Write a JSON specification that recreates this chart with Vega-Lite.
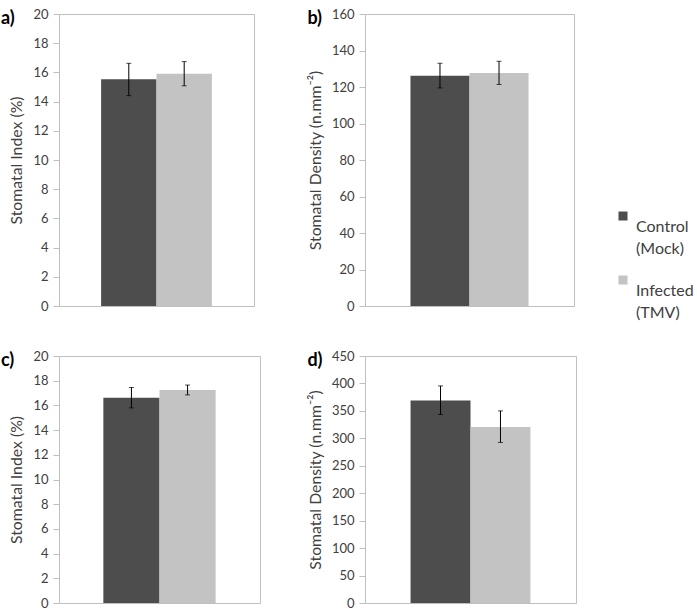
{
  "$schema": "https://vega.github.io/schema/vega-lite/v6.json",
  "padding": {"left": 0, "top": 7, "right": 0, "bottom": 0},
  "config": {
    "font": "Lato",
    "view": {"stroke": "#bfbfbf", "strokeWidth": 1},
    "axisY": {"domain": false, "grid": false, "ticks": true, "tickColor": "#bfbfbf", "tickSize": 6, "labelFontSize": 13, "labelColor": "#404040", "labelPadding": 5, "labelOverlap": false, "titleFontSize": 15.8, "titleFontWeight": "normal", "titleColor": "#404040", "titlePadding": 8},
    "title": {"fontSize": 18, "fontWeight": "bold", "anchor": "start", "frame": "bounds", "color": "#000000", "baseline": "middle", "offset": -13},
    "legend": {"orient": "none", "legendX": 556, "legendY": 205}
  },
  "data": {"values": [
    {"panel": "a", "group": "Control (Mock)", "mean": 15.53, "lo": 14.41, "hi": 16.62},
    {"panel": "a", "group": "Infected (TMV)", "mean": 15.9, "lo": 15.08, "hi": 16.74},
    {"panel": "b", "group": "Control (Mock)", "mean": 126.2, "lo": 119.5, "hi": 133.0},
    {"panel": "b", "group": "Infected (TMV)", "mean": 127.7, "lo": 121.4, "hi": 134.1},
    {"panel": "c", "group": "Control (Mock)", "mean": 16.62, "lo": 15.8, "hi": 17.45},
    {"panel": "c", "group": "Infected (TMV)", "mean": 17.24, "lo": 16.85, "hi": 17.65},
    {"panel": "d", "group": "Control (Mock)", "mean": 369.0, "lo": 343.5, "hi": 395.5},
    {"panel": "d", "group": "Infected (TMV)", "mean": 320.5, "lo": 292.5, "hi": 350.0}
  ]},
  "columns": 2,
  "spacing": {"row": 35, "column": 45},
  "concat": [
    {
      "title": {"text": "a)", "dy": 7, "dx": -8},
      "width": 195, "height": 292,
      "transform": [{"filter": "datum.panel == 'a'"}],
      "encoding": {"x": {"field": "group", "type": "nominal", "axis": null, "sort": ["Control (Mock)", "Infected (TMV)"], "scale": {"paddingInner": 0, "paddingOuter": 0.76}}},
      "layer": [
        {"mark": {"type": "bar"}, "encoding": {
          "y": {"field": "mean", "type": "quantitative", "title": "Stomatal Index (%)", "scale": {"domain": [0, 20], "nice": false}, "axis": {"values": [0, 2, 4, 6, 8, 10, 12, 14, 16, 18, 20], "labelOverlap": false}},
          "color": {"field": "group", "type": "nominal", "scale": {"domain": ["Control (Mock)", "Infected (TMV)"], "range": ["#4d4d4d", "#c3c3c3"]},
            "legend": {"title": null, "symbolType": "M-1,-3.44H1V-1.44H-1Z", "symbolSize": 81, "symbolStrokeWidth": 0, "labelFontSize": 16, "labelColor": "#404040", "labelBaseline": "middle", "labelOffset": 5, "rowPadding": 18, "labelLimit": 200,
              "labelExpr": "datum.label == 'Control (Mock)' ? ['Control', '(Mock)'] : ['Infected', '(TMV)']",
              "encode": {"labels": {"update": {"lineHeight": {"value": 22}}}}}}
        }},
        {"mark": {"type": "rule", "color": "#000000", "strokeWidth": 1}, "encoding": {"y": {"field": "lo", "type": "quantitative", "title": "Stomatal Index (%)", "axis": {"values": [0, 2, 4, 6, 8, 10, 12, 14, 16, 18, 20], "labelOverlap": false}}, "y2": {"field": "hi"}}},
        {"mark": {"type": "tick", "color": "#000000", "thickness": 1, "size": 5}, "encoding": {"y": {"field": "lo", "type": "quantitative", "title": "Stomatal Index (%)", "axis": {"values": [0, 2, 4, 6, 8, 10, 12, 14, 16, 18, 20], "labelOverlap": false}}}},
        {"mark": {"type": "tick", "color": "#000000", "thickness": 1, "size": 5}, "encoding": {"y": {"field": "hi", "type": "quantitative", "title": "Stomatal Index (%)", "axis": {"values": [0, 2, 4, 6, 8, 10, 12, 14, 16, 18, 20], "labelOverlap": false}}}}
      ]
    },
    {
      "title": {"text": "b)", "dy": 7},
      "width": 209, "height": 292,
      "transform": [{"filter": "datum.panel == 'b'"}],
      "encoding": {"x": {"field": "group", "type": "nominal", "axis": null, "sort": ["Control (Mock)", "Infected (TMV)"], "scale": {"paddingInner": 0, "paddingOuter": 0.77}}},
      "layer": [
        {"mark": {"type": "bar"}, "encoding": {
          "y": {"field": "mean", "type": "quantitative", "title": "Stomatal Density (n.mm⁻²)", "scale": {"domain": [0, 160], "nice": false}, "axis": {"values": [0, 20, 40, 60, 80, 100, 120, 140, 160], "labelOverlap": false}},
          "color": {"field": "group", "type": "nominal"}
        }},
        {"mark": {"type": "rule", "color": "#000000", "strokeWidth": 1}, "encoding": {"y": {"field": "lo", "type": "quantitative", "title": "Stomatal Density (n.mm⁻²)", "axis": {"values": [0, 20, 40, 60, 80, 100, 120, 140, 160], "labelOverlap": false}}, "y2": {"field": "hi"}}},
        {"mark": {"type": "tick", "color": "#000000", "thickness": 1, "size": 5}, "encoding": {"y": {"field": "lo", "type": "quantitative", "title": "Stomatal Density (n.mm⁻²)", "axis": {"values": [0, 20, 40, 60, 80, 100, 120, 140, 160], "labelOverlap": false}}}},
        {"mark": {"type": "tick", "color": "#000000", "thickness": 1, "size": 5}, "encoding": {"y": {"field": "hi", "type": "quantitative", "title": "Stomatal Density (n.mm⁻²)", "axis": {"values": [0, 20, 40, 60, 80, 100, 120, 140, 160], "labelOverlap": false}}}}
      ]
    },
    {
      "title": {"text": "c)", "dy": 7, "dx": -8},
      "width": 201, "height": 247,
      "transform": [{"filter": "datum.panel == 'c'"}],
      "encoding": {"x": {"field": "group", "type": "nominal", "axis": null, "sort": ["Control (Mock)", "Infected (TMV)"], "scale": {"paddingInner": 0, "paddingOuter": 0.79}}},
      "layer": [
        {"mark": {"type": "bar"}, "encoding": {
          "y": {"field": "mean", "type": "quantitative", "title": "Stomatal Index (%)", "scale": {"domain": [0, 20], "nice": false}, "axis": {"values": [0, 2, 4, 6, 8, 10, 12, 14, 16, 18, 20], "labelOverlap": false}},
          "color": {"field": "group", "type": "nominal"}
        }},
        {"mark": {"type": "rule", "color": "#000000", "strokeWidth": 1}, "encoding": {"y": {"field": "lo", "type": "quantitative", "title": "Stomatal Index (%)", "axis": {"values": [0, 2, 4, 6, 8, 10, 12, 14, 16, 18, 20], "labelOverlap": false}}, "y2": {"field": "hi"}}},
        {"mark": {"type": "tick", "color": "#000000", "thickness": 1, "size": 5}, "encoding": {"y": {"field": "lo", "type": "quantitative", "title": "Stomatal Index (%)", "axis": {"values": [0, 2, 4, 6, 8, 10, 12, 14, 16, 18, 20], "labelOverlap": false}}}},
        {"mark": {"type": "tick", "color": "#000000", "thickness": 1, "size": 5}, "encoding": {"y": {"field": "hi", "type": "quantitative", "title": "Stomatal Index (%)", "axis": {"values": [0, 2, 4, 6, 8, 10, 12, 14, 16, 18, 20], "labelOverlap": false}}}}
      ]
    },
    {
      "title": {"text": "d)", "dy": 7},
      "width": 211, "height": 247,
      "transform": [{"filter": "datum.panel == 'd'"}],
      "encoding": {"x": {"field": "group", "type": "nominal", "axis": null, "sort": ["Control (Mock)", "Infected (TMV)"], "scale": {"paddingInner": 0, "paddingOuter": 0.76}}},
      "layer": [
        {"mark": {"type": "bar"}, "encoding": {
          "y": {"field": "mean", "type": "quantitative", "title": "Stomatal Density (n.mm⁻²)", "scale": {"domain": [0, 450], "nice": false}, "axis": {"values": [0, 50, 100, 150, 200, 250, 300, 350, 400, 450], "labelOverlap": false}},
          "color": {"field": "group", "type": "nominal"}
        }},
        {"mark": {"type": "rule", "color": "#000000", "strokeWidth": 1}, "encoding": {"y": {"field": "lo", "type": "quantitative", "title": "Stomatal Density (n.mm⁻²)", "axis": {"values": [0, 50, 100, 150, 200, 250, 300, 350, 400, 450], "labelOverlap": false}}, "y2": {"field": "hi"}}},
        {"mark": {"type": "tick", "color": "#000000", "thickness": 1, "size": 5}, "encoding": {"y": {"field": "lo", "type": "quantitative", "title": "Stomatal Density (n.mm⁻²)", "axis": {"values": [0, 50, 100, 150, 200, 250, 300, 350, 400, 450], "labelOverlap": false}}}},
        {"mark": {"type": "tick", "color": "#000000", "thickness": 1, "size": 5}, "encoding": {"y": {"field": "hi", "type": "quantitative", "title": "Stomatal Density (n.mm⁻²)", "axis": {"values": [0, 50, 100, 150, 200, 250, 300, 350, 400, 450], "labelOverlap": false}}}}
      ]
    }
  ]
}
